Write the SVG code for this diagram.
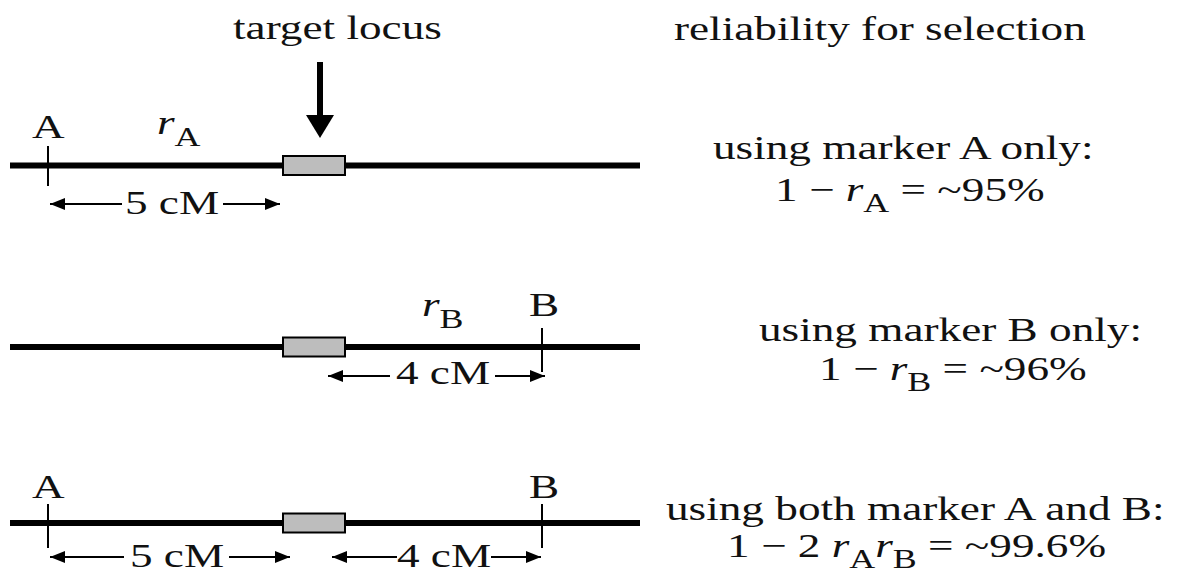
<svg xmlns="http://www.w3.org/2000/svg" width="1179" height="574" viewBox="0 0 1179 574">
<style>
  text { font-family: "Liberation Serif", "Times New Roman", serif; font-size: 34px; fill: #111; }
  .it { font-style: italic; }
  .sub { font-size: 27px; font-style: normal; }
  .mid { text-anchor: middle; }
  .chrom { stroke: #000; stroke-width: 6; }
  .tick { stroke: #000; stroke-width: 2; }
  .locus { fill: #bdbdbd; stroke: #000; stroke-width: 2; }
  .dim { stroke: #000; stroke-width: 2; fill: none; marker-end: url(#ah); }
</style>
<defs>
  <marker id="ah" markerUnits="userSpaceOnUse" markerWidth="16" markerHeight="12" refX="15" refY="6" orient="auto">
    <path d="M0,0 L15,6 L0,12 Z" fill="#000"/>
  </marker>
</defs>
<rect width="1179" height="574" fill="#fff"/>

<g id="header">
  <text transform="translate(233,39) scale(1.33,1)">target locus</text>
  <text transform="translate(674,40) scale(1.33,1)">reliability for selection</text>
  <rect x="317" y="62" width="6" height="56" fill="#000"/>
  <polygon points="306,115 334,115 320,138" fill="#000"/>
</g>

<g id="row1">
  <line class="chrom" x1="10" y1="165.5" x2="640" y2="165.5"/>
  <line class="tick" x1="48" y1="146" x2="48" y2="186"/>
  <rect class="locus" x="283" y="156" width="62" height="19"/>
  <text transform="translate(32,138) scale(1.33,1)">A</text>
  <text transform="translate(157,134) scale(1.33,1)"><tspan class="it">r</tspan><tspan class="sub" dy="12">A</tspan></text>
  <text class="mid" transform="translate(172,214) scale(1.33,1)">5 cM</text>
  <text transform="translate(713,159) scale(1.33,1)">using marker A only:</text>
  <text transform="translate(775,201) scale(1.33,1)">1 − <tspan class="it">r</tspan><tspan class="sub" dy="11">A</tspan><tspan dy="-11"> = ~95%</tspan></text>
</g>

<g id="row2">
  <line class="chrom" x1="10" y1="347" x2="640" y2="347"/>
  <line class="tick" x1="542" y1="328" x2="542" y2="372"/>
  <rect class="locus" x="283" y="337.5" width="62" height="19"/>
  <text transform="translate(529,316) scale(1.33,1)">B</text>
  <text transform="translate(422,316) scale(1.33,1)"><tspan class="it">r</tspan><tspan class="sub" dy="12">B</tspan></text>
  <text class="mid" transform="translate(443,384) scale(1.33,1)">4 cM</text>
  <text transform="translate(759,341) scale(1.33,1)">using marker B only:</text>
  <text transform="translate(819,380) scale(1.33,1)">1 − <tspan class="it">r</tspan><tspan class="sub" dy="11">B</tspan><tspan dy="-11"> = ~96%</tspan></text>
</g>

<g id="row3">
  <line class="chrom" x1="10" y1="523" x2="640" y2="523"/>
  <line class="tick" x1="48" y1="504" x2="48" y2="548"/>
  <line class="tick" x1="542" y1="504" x2="542" y2="548"/>
  <rect class="locus" x="283" y="513.5" width="62" height="19"/>
  <text transform="translate(32,498) scale(1.33,1)">A</text>
  <text transform="translate(529,498) scale(1.33,1)">B</text>
  <text class="mid" transform="translate(177,567) scale(1.33,1)">5 cM</text>
  <text class="mid" transform="translate(444,567) scale(1.33,1)">4 cM</text>
  <text transform="translate(666,520) scale(1.33,1)">using both marker A and B:</text>
  <text transform="translate(727,557) scale(1.33,1)">1 − 2 <tspan class="it">r</tspan><tspan class="sub" dy="11">A</tspan><tspan class="it" dy="-11">r</tspan><tspan class="sub" dy="11">B</tspan><tspan dy="-11"> = ~99.6%</tspan></text>
</g>

<g id="connectors">
  <line class="dim" x1="122" y1="204" x2="50" y2="204"/>
  <line class="dim" x1="223" y1="204" x2="280" y2="204"/>
  <line class="dim" x1="390" y1="376" x2="328" y2="376"/>
  <line class="dim" x1="495" y1="376" x2="545" y2="376"/>
  <line class="dim" x1="124" y1="557" x2="50" y2="557"/>
  <line class="dim" x1="229" y1="557" x2="290" y2="557"/>
  <line class="dim" x1="397" y1="557" x2="332" y2="557"/>
  <line class="dim" x1="491" y1="557" x2="541" y2="557"/>
</g>
</svg>
